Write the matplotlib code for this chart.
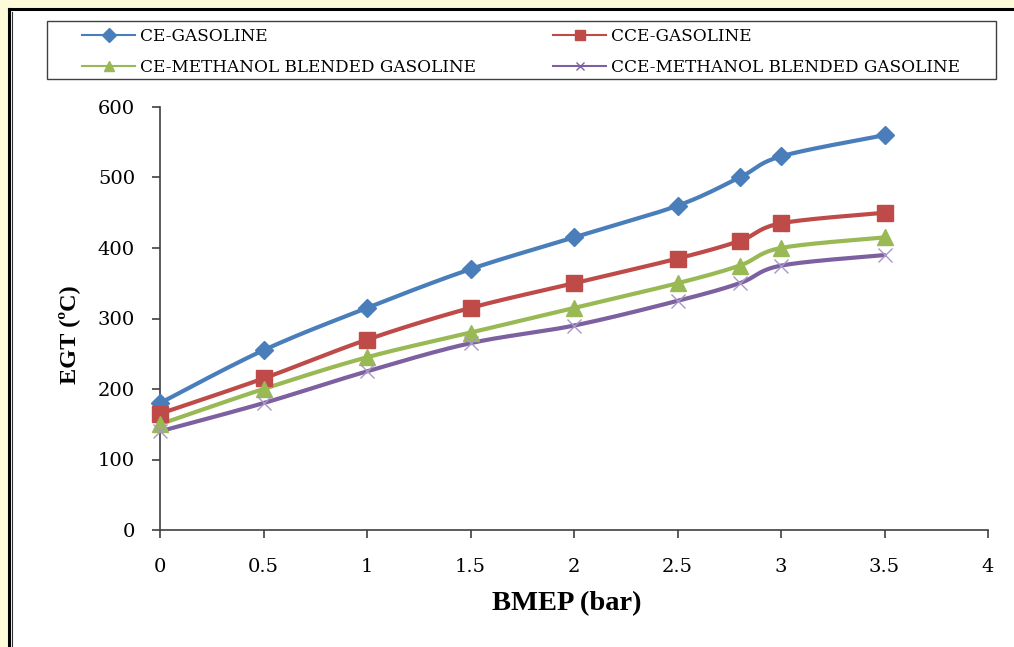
import matplotlib
matplotlib.use('Agg')
import matplotlib.pyplot as plt
from matplotlib.patches import Rectangle
from matplotlib.lines import Line2D
import numpy as np

# data
bmep = [0, 0.5, 1, 1.5, 2, 2.5, 2.8, 3, 3.5]
ce_gasoline = [180, 255, 315, 370, 415, 460, 500, 530, 560]
cce_gasoline = [165, 215, 270, 315, 350, 385, 410, 435, 450]
ce_methanol = [150, 200, 245, 280, 315, 350, 375, 400, 415]
cce_methanol = [140, 180, 225, 265, 290, 325, 350, 375, 390]

labels = ["CE-GASOLINE", "CCE-GASOLINE",
          "CE-METHANOL BLENDED GASOLINE", "CCE-METHANOL BLENDED GASOLINE"]


def smooth(x, y, n=20):
    # excel style smoothed line (catmull-rom through the points)
    x = np.asarray(x, float)
    y = np.asarray(y, float)
    px = np.concatenate([[x[0]], x, [x[-1]]])
    py = np.concatenate([[y[0]], y, [y[-1]]])
    t = np.linspace(0, 1, n)
    xs, ys = [], []
    for i in range(1, len(px) - 2):
        p0x, p1x, p2x, p3x = px[i - 1], px[i], px[i + 1], px[i + 2]
        p0y, p1y, p2y, p3y = py[i - 1], py[i], py[i + 1], py[i + 2]
        c1x = p1x + (p2x - p0x) / 6
        c1y = p1y + (p2y - p0y) / 6
        c2x = p2x - (p3x - p1x) / 6
        c2y = p2y - (p3y - p1y) / 6
        bx = (1 - t) ** 3 * p1x + 3 * (1 - t) ** 2 * t * c1x + 3 * (1 - t) * t ** 2 * c2x + t ** 3 * p2x
        by = (1 - t) ** 3 * p1y + 3 * (1 - t) ** 2 * t * c1y + 3 * (1 - t) * t ** 2 * c2y + t ** 3 * p2y
        xs.extend(bx)
        ys.extend(by)
    return np.array(xs), np.array(ys)


plt.rcParams['font.family'] = ['DejaVu Serif', 'Liberation Serif']

W, H = 1014, 647
fig = plt.figure(figsize=(W / 100, H / 100), dpi=100)
fig.patch.set_facecolor('#FDFBD9')

# white page with a black frame at left/top
fig.patches.append(Rectangle((12 / W, 0), 1, 1 - 10 / H, transform=fig.transFigure,
                             facecolor='white', edgecolor='none', zorder=-5))
fig.add_artist(Line2D([9 / W, 9 / W], [0, 1 - 9 / H], transform=fig.transFigure, color='black', lw=2.2))
fig.add_artist(Line2D([12 / W, 12 / W], [0, 1 - 12 / H], transform=fig.transFigure, color='#333333', lw=0.8))
fig.add_artist(Line2D([9 / W, 1], [1 - 9 / H, 1 - 9 / H], transform=fig.transFigure, color='black', lw=2.2))

# legend box
fig.patches.append(Rectangle((47 / W, 1 - 79 / H), (996 - 47) / W, 58 / H, transform=fig.transFigure,
                             facecolor='white', edgecolor='#404040', lw=1.0, zorder=1))

ax = fig.add_axes([160 / W, 1 - 530 / H, (988 - 160) / W, (530 - 107) / H])
ax.set_facecolor('none')
ax.set_zorder(2)

series = [
    (ce_gasoline, '#4A7EBB', 'D', 9, labels[0]),
    (cce_gasoline, '#BE4B48', 's', 11, labels[1]),
    (ce_methanol, '#98B954', '^', 11, labels[2]),
    (cce_methanol, '#7D60A0', 'x', 10, labels[3]),
]

handles = {}
for ys, col, mk, ms, lab in series:
    sx, sy = smooth(bmep, ys)
    ax.plot(sx, sy, color=col, lw=3, solid_capstyle='round', zorder=2, clip_on=False)
    if mk == 'x':
        ax.plot(bmep, ys, ls='none', marker='x', ms=ms, mew=1, color='#A996C8', zorder=3, clip_on=False)
    else:
        ax.plot(bmep, ys, ls='none', marker=mk, ms=ms, color=col, mec=col, zorder=3, clip_on=False)
    handles[lab] = Line2D([], [], color=col, lw=1.5, marker=mk, ms=7 if mk != 'x' else 6,
                          mew=1, mec=col)

ax.set_xlim(0, 4)
ax.set_ylim(0, 600)
ax.set_xticks(np.arange(0, 4.01, 0.5))
ax.set_xticklabels(['0', '0.5', '1', '1.5', '2', '2.5', '3', '3.5', '4'])
ax.set_yticks(range(0, 601, 100))
ax.spines['top'].set_visible(False)
ax.spines['right'].set_visible(False)
for s in ['left', 'bottom']:
    ax.spines[s].set_color('#404040')
    ax.spines[s].set_linewidth(1.2)
ax.tick_params(direction='out', length=6, width=1.2, color='#404040', labelsize=14)
ax.tick_params(axis='x', pad=14)
ax.tick_params(axis='y', pad=12)

ax.set_xlabel('BMEP (bar)', fontsize=20.5, fontweight='bold', family='Liberation Serif')
ax.set_ylabel('EGT (ºC)', fontsize=17.5, fontweight='bold', family='Liberation Serif')
ax.xaxis.set_label_coords(0.4915, -0.145)
ax.yaxis.set_label_coords(-0.097, 0.463)

order = [labels[0], labels[2], labels[1], labels[3]]
leg = fig.legend([handles[l] for l in order], order, loc='upper left',
                 bbox_to_anchor=(82 / W, 1 - 28 / H), ncol=2, fontsize=12.2,
                 frameon=False, handlelength=3.13, handletextpad=0.3,
                 borderaxespad=0, borderpad=0, labelspacing=0.82, columnspacing=4.55)
leg.set_zorder(3)

plt.savefig('out.png', dpi=100)
plt.close()
